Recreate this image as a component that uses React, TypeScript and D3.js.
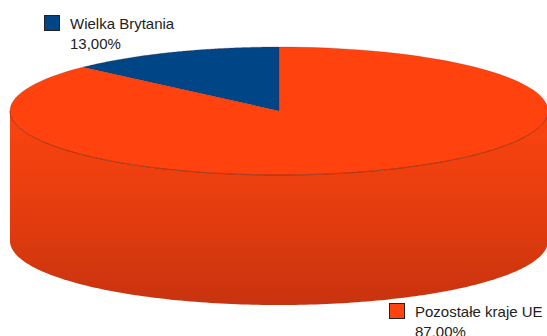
import React from "react";
import * as d3 from "d3";

const categories = ["Wielka Brytania", "Pozostałe kraje UE"];
const values = [13, 87];
const valueLabels = ["13,00%", "87,00%"];
const colors = ["#004586", "#ff420e"];

const W = 547;
const H = 336;
const cx = 279;
const cy = 111;
const rx = 269;
const ry = 64;
const depth = 130;

function pt(theta: number, yOff = 0): [number, number] {
  return [cx + rx * Math.sin(theta), cy + yOff - ry * Math.cos(theta)];
}

function wedgePath(a0: number, a1: number): string {
  const p = d3.path();
  p.moveTo(cx, cy);
  const [x0, y0] = pt(a0);
  p.lineTo(x0, y0);
  const steps = 120;
  for (let i = 1; i <= steps; i++) {
    const t = a0 + ((a1 - a0) * i) / steps;
    const [x, y] = pt(t);
    p.lineTo(x, y);
  }
  p.closePath();
  return p.toString();
}

function sidePath(): string {
  const p = d3.path();
  const steps = 160;
  for (let i = 0; i <= steps; i++) {
    const t = (3 * Math.PI) / 2 - (Math.PI * i) / steps;
    const [x, y] = pt(t);
    if (i === 0) p.moveTo(x, y);
    else p.lineTo(x, y);
  }
  for (let i = 0; i <= steps; i++) {
    const t = Math.PI / 2 + (Math.PI * i) / steps;
    const [x, y] = pt(t, depth);
    p.lineTo(x, y);
  }
  p.closePath();
  return p.toString();
}

function seamPath(): string {
  const p = d3.path();
  const steps = 160;
  for (let i = 0; i <= steps; i++) {
    const t = (3 * Math.PI) / 2 - (Math.PI * i) / steps;
    const [x, y] = pt(t);
    if (i === 0) p.moveTo(x, y);
    else p.lineTo(x, y);
  }
  return p.toString();
}

export default function App() {
  const pie = d3
    .pie<number>()
    .sort(null)
    .startAngle(0)
    .endAngle(-2 * Math.PI);
  const arcs = pie(values);

  const legendPos = [
    { x: 44, y: 15 },
    { x: 389, y: 303 },
  ];

  return (
    <svg
      width={W}
      height={H}
      style={{ position: "absolute", left: 0, top: 0, background: "#fff" }}
      fontFamily="'Liberation Sans', Arial, sans-serif"
    >
      <defs>
        <linearGradient id="sideGrad" x1="0" y1={cy} x2="0" y2={cy + depth + ry} gradientUnits="userSpaceOnUse">
          <stop offset="0" stopColor="#fb440f" />
          <stop offset="0.45" stopColor="#e83e0e" />
          <stop offset="1" stopColor="#c8330f" />
        </linearGradient>
      </defs>
      <path d={sidePath()} fill="url(#sideGrad)" />
      {arcs.map((a, i) => (
        <path
          key={i}
          d={wedgePath(a.startAngle, a.endAngle)}
          fill={colors[i]}
          stroke="#6a2410"
          strokeWidth={0.4}
          strokeOpacity={0.6}
        />
      ))}
      <path d={seamPath()} fill="none" stroke="#8a2a10" strokeWidth={0.8} strokeOpacity={0.8} />
      {categories.map((c, i) => (
        <g key={c}>
          <rect
            x={legendPos[i].x + 0.5}
            y={legendPos[i].y + 0.5}
            width={15}
            height={15}
            fill={colors[i]}
            stroke="#222"
            strokeWidth={1}
          />
          <text x={legendPos[i].x + 26} y={legendPos[i].y + 14.3} fontSize={15} fill="#222">
            {c}
          </text>
          <text x={legendPos[i].x + 26} y={legendPos[i].y + 33.5} fontSize={15} fill="#222">
            {valueLabels[i]}
          </text>
        </g>
      ))}
    </svg>
  );
}
